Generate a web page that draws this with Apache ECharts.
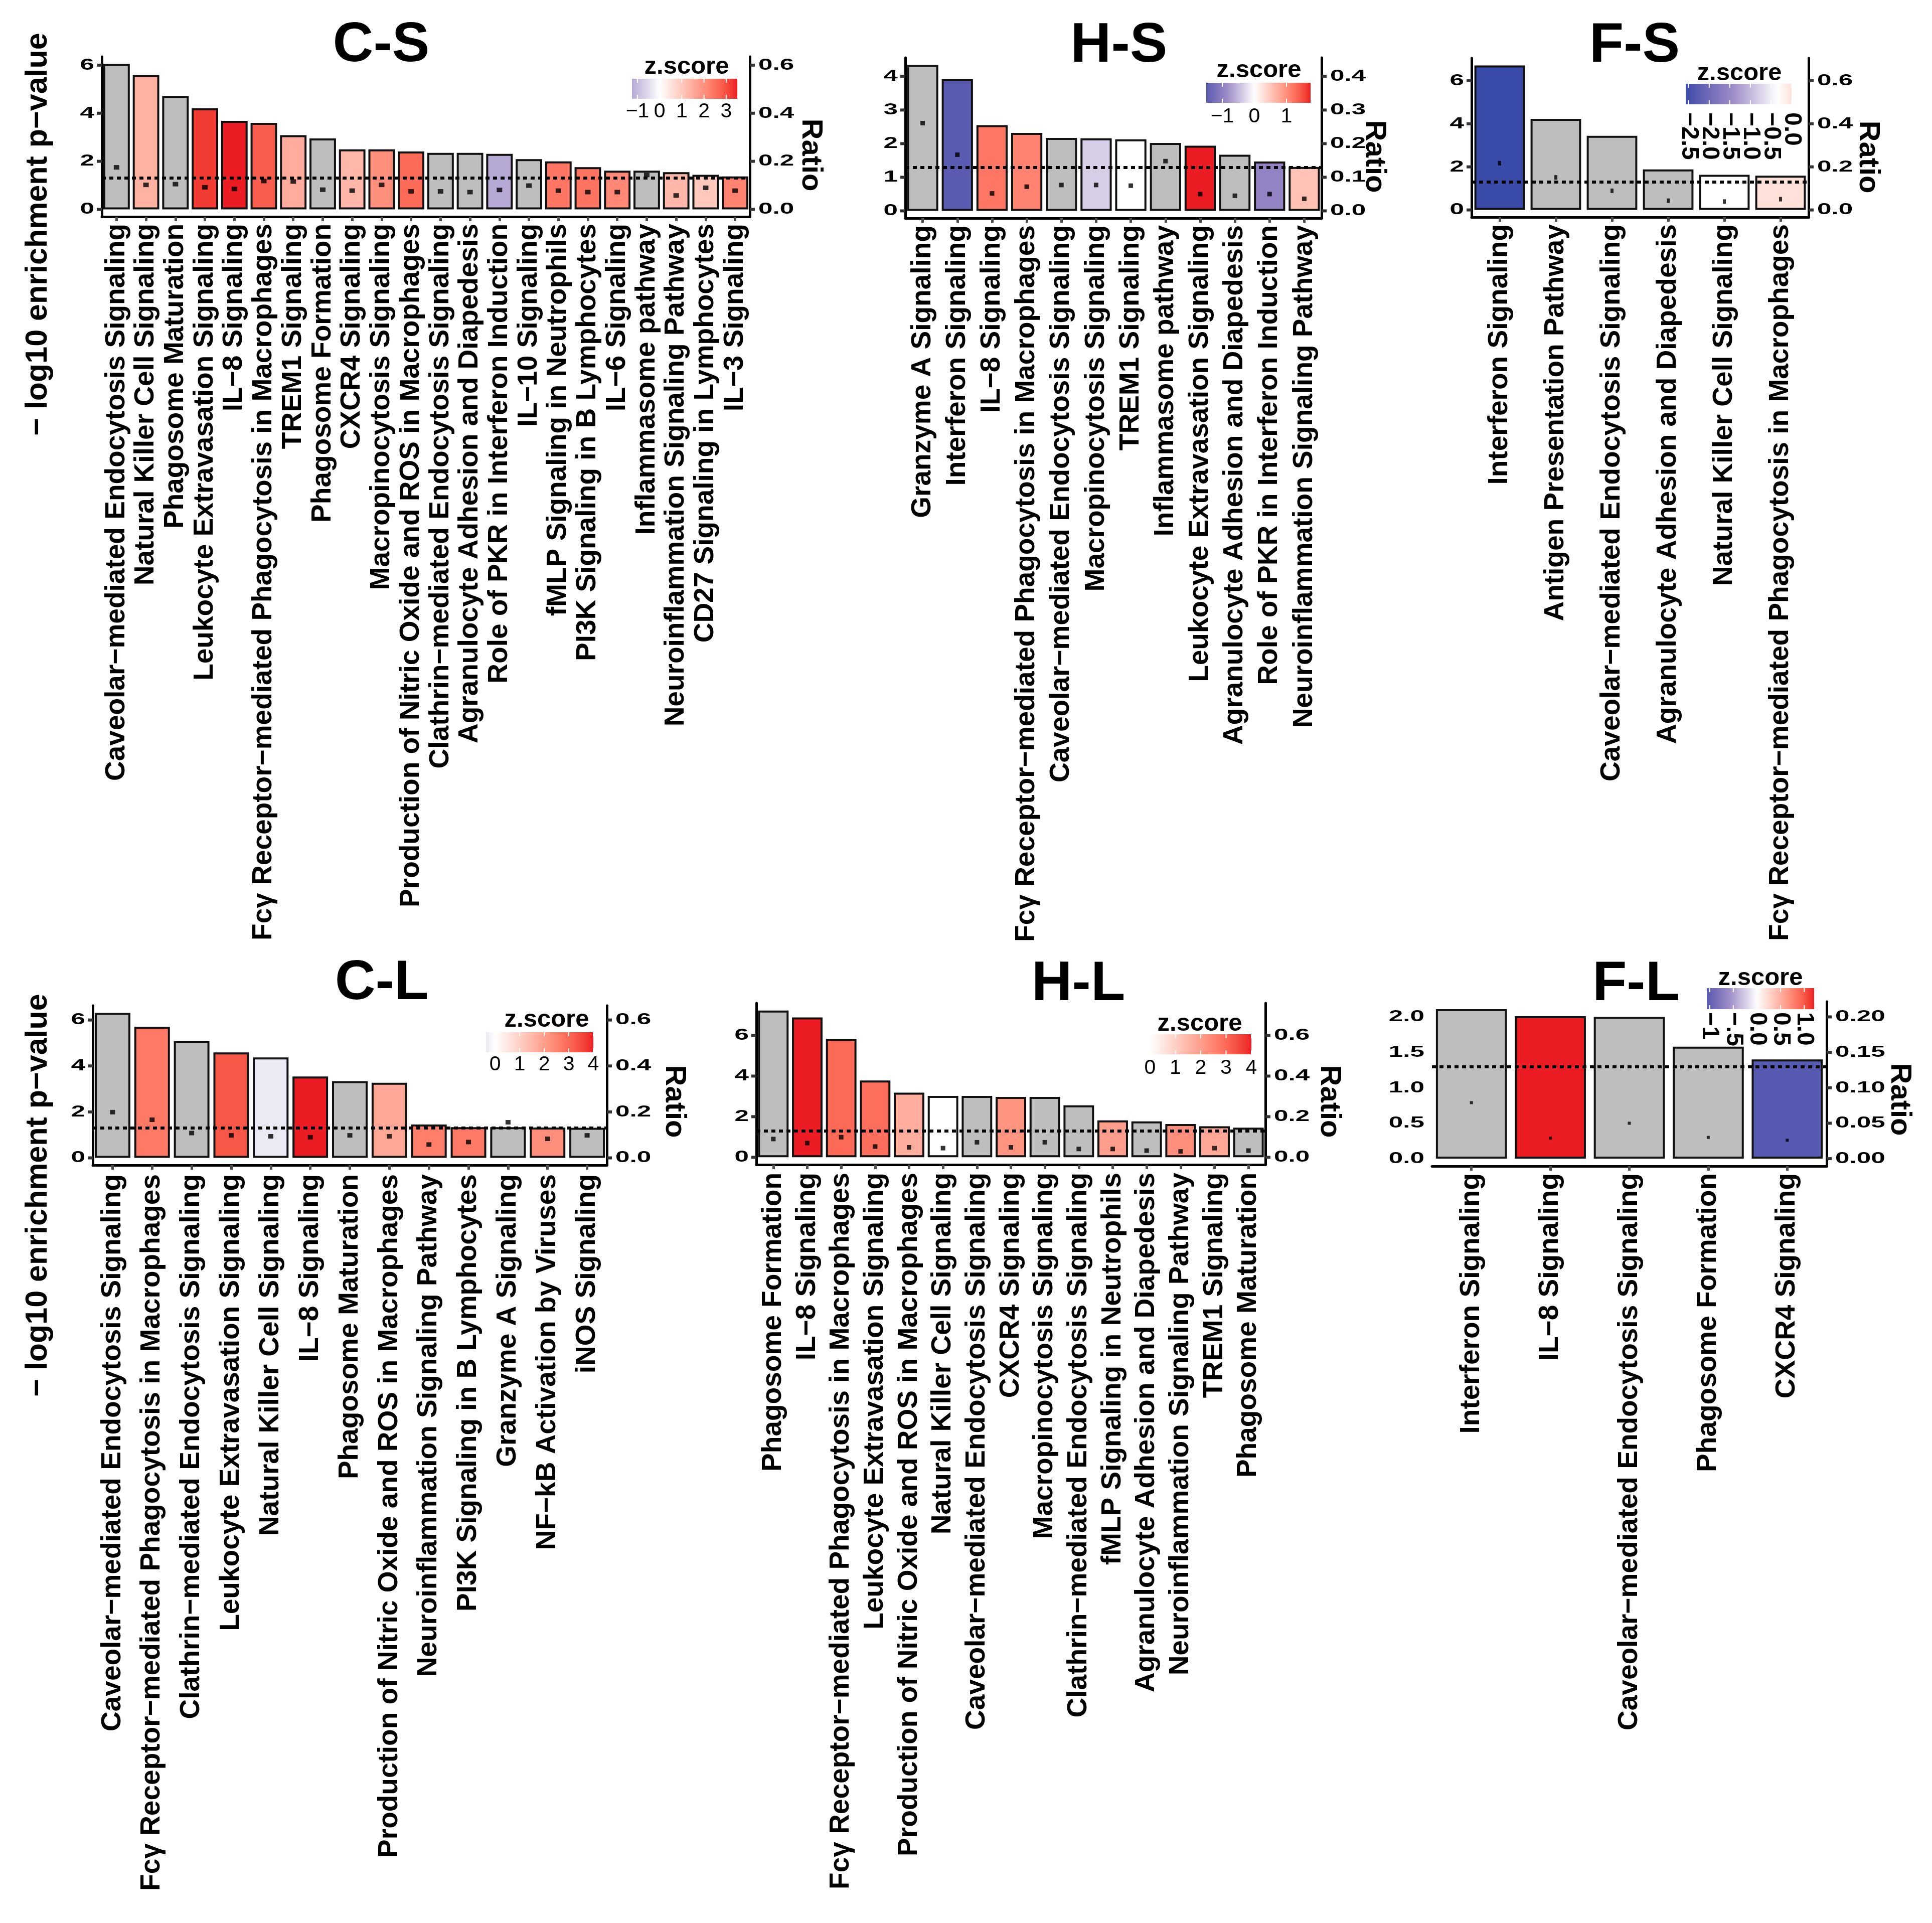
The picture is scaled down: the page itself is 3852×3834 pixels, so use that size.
<!DOCTYPE html>
<html><head><meta charset="utf-8">
<script src="https://cdn.jsdelivr.net/npm/echarts@6/dist/echarts.min.js"></script>
<style>html,body{margin:0;padding:0;background:#fff}#c{width:3852px;height:3834px}</style>
</head><body><div id="c"></div>
<script>
const THRESHOLD = 1.3;

// ---------- C-S ----------
const csCategories = ["Caveolar−mediated Endocytosis Signaling","Natural Killer Cell Signaling","Phagosome Maturation","Leukocyte Extravasation Signaling","IL−8 Signaling","Fcγ Receptor−mediated Phagocytosis in Macrophages","TREM1 Signaling","Phagosome Formation","CXCR4 Signaling","Macropinocytosis Signaling","Production of Nitric Oxide and ROS in Macrophages","Clathrin−mediated Endocytosis Signaling","Agranulocyte Adhesion and Diapedesis","Role of PKR in Interferon Induction","IL−10 Signaling","fMLP Signaling in Neutrophils","PI3K Signaling in B Lymphocytes","IL−6 Signaling","Inflammasome pathway","Neuroinflammation Signaling Pathway","CD27 Signaling in Lymphocytes","IL−3 Signaling"];
const csLogP  = [6.05,5.59,4.72,4.21,3.68,3.60,3.09,2.95,2.50,2.50,2.41,2.35,2.35,2.31,2.09,2.00,1.76,1.61,1.61,1.55,1.44,1.37];
const csRatio = [0.175,0.102,0.105,0.092,0.085,0.118,0.116,0.082,0.078,0.102,0.075,0.075,0.072,0.081,0.099,0.078,0.072,0.072,0.143,0.058,0.090,0.078];
const csZ     = [null,1.4,null,3.25,3.5,2.8,1.5,null,1.3,2.0,2.6,null,null,-1.25,null,2.4,2.45,2.1,null,1.3,1.0,2.2];
const csYTickLabels = ["0","2","4","6"];
const csRatioTickLabels = ["0.0","0.2","0.4","0.6"];
const csLegendValues = [-1,0,1,2,3];
const csLegendLabels = ["−1","0","1","2","3"];

// ---------- H-S ----------
const hsCategories = ["Granzyme A Signaling","Interferon Signaling","IL−8 Signaling","Fcγ Receptor−mediated Phagocytosis in Macrophages","Caveolar−mediated Endocytosis Signaling","Macropinocytosis Signaling","TREM1 Signaling","Inflammasome pathway","Leukocyte Extravasation Signaling","Agranulocyte Adhesion and Diapedesis","Role of PKR in Interferon Induction","Neuroinflammation Signaling Pathway"];
const hsLogP  = [4.34,3.92,2.55,2.32,2.17,2.16,2.13,2.02,1.94,1.67,1.47,1.31];
const hsRatio = [0.261,0.167,0.052,0.072,0.077,0.077,0.075,0.148,0.050,0.045,0.050,0.036];
const hsZ     = [null,-1.5,1.2,1.1,null,-0.35,0,null,1.75,null,-0.95,0.55];
const hsYTickLabels = ["0","1","2","3","4"];
const hsRatioTickLabels = ["0.0","0.1","0.2","0.3","0.4"];
const hsLegendValues = [-1,0,1];
const hsLegendLabels = ["−1","0","1"];

// ---------- F-S ----------
const fsCategories = ["Interferon Signaling","Antigen Presentation Pathway","Caveolar−mediated Endocytosis Signaling","Agranulocyte Adhesion and Diapedesis","Natural Killer Cell Signaling","Fcγ Receptor−mediated Phagocytosis in Macrophages"];
const fsLogP  = [6.71,4.23,3.44,1.88,1.63,1.59];
const fsRatio = [0.217,0.151,0.089,0.043,0.039,0.050];
const fsZ     = [-2.57,null,null,null,-0.35,0.0];
const fsYTickLabels = ["0","2","4","6"];
const fsRatioTickLabels = ["0.0","0.2","0.4","0.6"];
const fsLegendValues = [-2.5,-2.0,-1.5,-1.0,-0.5,0.0];
const fsLegendLabels = ["−2.5","−2.0","−1.5","−1.0","−0.5","0.0"];

// ---------- C-L ----------
const clCategories = ["Caveolar−mediated Endocytosis Signaling","Fcγ Receptor−mediated Phagocytosis in Macrophages","Clathrin−mediated Endocytosis Signaling","Leukocyte Extravasation Signaling","Natural Killer Cell Signaling","IL−8 Signaling","Phagosome Maturation","Production of Nitric Oxide and ROS in Macrophages","Neuroinflammation Signaling Pathway","PI3K Signaling in B Lymphocytes","Granzyme A Signaling","NF−kB Activation by Viruses","iNOS Signaling"];
const clLogP  = [6.31,5.71,5.08,4.59,4.37,3.54,3.34,3.27,1.45,1.34,1.34,1.32,1.31];
const clRatio = [0.199,0.166,0.108,0.098,0.094,0.090,0.098,0.094,0.058,0.069,0.155,0.083,0.098];
const clZ     = [null,2.7,null,3.3,-0.37,4.0,null,1.8,2.6,2.7,null,2.3,null];
const clYTickLabels = ["0","2","4","6"];
const clRatioTickLabels = ["0.0","0.2","0.4","0.6"];
const clLegendValues = [0,1,2,3,4];
const clLegendLabels = ["0","1","2","3","4"];

// ---------- H-L ----------
const hlCategories = ["Phagosome Formation","IL−8 Signaling","Fcγ Receptor−mediated Phagocytosis in Macrophages","Leukocyte Extravasation Signaling","Production of Nitric Oxide and ROS in Macrophages","Natural Killer Cell Signaling","Caveolar−mediated Endocytosis Signaling","CXCR4 Signaling","Macropinocytosis Signaling","Clathrin−mediated Endocytosis Signaling","fMLP Signaling in Neutrophils","Agranulocyte Adhesion and Diapedesis","Neuroinflammation Signaling Pathway","TREM1 Signaling","Phagosome Maturation"];
const hlLogP  = [7.23,6.89,5.83,3.78,3.18,3.02,3.02,2.97,2.97,2.56,1.82,1.77,1.64,1.53,1.46];
const hlRatio = [0.090,0.070,0.099,0.053,0.049,0.045,0.074,0.049,0.074,0.041,0.041,0.033,0.029,0.045,0.033];
const hlZ     = [null,4.0,3.0,2.9,1.7,0,null,2.2,null,null,2.0,null,2.3,1.8,null];
const hlYTickLabels = ["0","2","4","6"];
const hlRatioTickLabels = ["0.0","0.2","0.4","0.6"];
const hlLegendValues = [0,1,2,3,4];
const hlLegendLabels = ["0","1","2","3","4"];

// ---------- F-L ----------
const flCategories = ["Interferon Signaling","IL−8 Signaling","Caveolar−mediated Endocytosis Signaling","Phagosome Formation","CXCR4 Signaling"];
const flLogP  = [2.11,2.01,2.00,1.58,1.40];
const flRatio = [0.079,0.029,0.050,0.030,0.026];
const flZ     = [null,1.21,null,null,-1.06];
const flYTickLabels = ["0.0","0.5","1.0","1.5","2.0"];
const flRatioTickLabels = ["0.00","0.05","0.10","0.15","0.20"];
const flLegendValues = [-1,-0.5,0,0.5,1];
const flLegendLabels = ["−1","−.5","0.0","0.5","1.0"];

// ---------- layout / style ----------
const FONT = '"Liberation Sans", Arial, Helvetica, sans-serif';
const panels = [
  {title:"C-S", cats:csCategories, vals:csLogP, ratio:csRatio, z:csZ, yl:csYTickLabels, rl:csRatioTickLabels, lv:csLegendValues, ll:csLegendLabels,
   grid:{left:203, top:113, width:1292, height:319}, titleXY:[760,91], ratioXY:[1616,309], leftAxis:true, dot:[11,9], margin:14,
   lg:{x0:1260,x1:1470,y0:157,y1:197,lo:-1.25,hi:3.5,mid:0,tx:1369,ty:133,ly:223,rot:false}},
  {title:"H-S", cats:hsCategories, vals:hsLogP, ratio:hsRatio, z:hsZ, yl:hsYTickLabels, rl:hsRatioTickLabels, lv:hsLegendValues, ll:hsLegendLabels,
   grid:{left:1805, top:115, width:830, height:320}, titleXY:[2231,92], ratioXY:[2740,312], leftAxis:true, dot:[9,9], margin:14,
   lg:{x0:2405,x1:2613,y0:165,y1:205,lo:-1.5,hi:1.75,mid:0,tx:2510,ty:140,ly:233,rot:false}},
  {title:"F-S", cats:fsCategories, vals:fsLogP, ratio:fsRatio, z:fsZ, yl:fsYTickLabels, rl:fsRatioTickLabels, lv:fsLegendValues, ll:fsLegendLabels,
   grid:{left:2934, top:116, width:672, height:317}, titleXY:[3259,92], ratioXY:[3724,313], leftAxis:true, dot:[6,9], margin:14,
   lg:{x0:3361,x1:3572,y0:167,y1:208,lo:-2.57,hi:0.0,mid:-0.35,tx:3468,ty:146,ly:224,rot:true}},
  {title:"C-L", cats:clCategories, vals:clLogP, ratio:clRatio, z:clZ, yl:clYTickLabels, rl:clRatioTickLabels, lv:clLegendValues, ll:clLegendLabels,
   grid:{left:185, top:2005, width:1025, height:318}, titleXY:[761,1961], ratioXY:[1344,2196], leftAxis:true, dot:[10,9], margin:18,
   lg:{x0:969,x1:1183,y0:2058,y1:2098,lo:-0.37,hi:4.0,mid:0,tx:1090,ty:2033,ly:2123,rot:false}},
  {title:"H-L", cats:hlCategories, vals:hlLogP, ratio:hlRatio, z:hlZ, yl:hlYTickLabels, rl:hlRatioTickLabels, lv:hlLegendValues, ll:hlLegendLabels,
   grid:{left:1508, top:2000, width:1015, height:322}, titleXY:[2150,1963], ratioXY:[2650,2196], leftAxis:true, dot:[9,9], margin:16,
   lg:{x0:2293,x1:2495,y0:2062,y1:2102,lo:0,hi:4.0,mid:0,tx:2392,ty:2041,ly:2130,rot:false}},
  {title:"F-L", cats:flCategories, vals:flLogP, ratio:flRatio, z:flZ, yl:flYTickLabels, rl:flRatioTickLabels, lv:flLegendValues, ll:flLegendLabels,
   grid:{left:2855, top:1997, width:787, height:328}, titleXY:[3262,1963], ratioXY:[3787,2192], leftAxis:false, dot:[6,6], margin:14,
   lg:{x0:3403,x1:3617,y0:1970,y1:2012,lo:-1.06,hi:1.21,mid:0,tx:3510,ty:1950,ly:2018,rot:true}}
];
const yTitles = [[76,467],[76,2383]];

// ---------- colour scale (gradient2, Lab interpolation) ----------
const LOWMID='#9A89C5', LOW='#3A4BA9', HIGH='#EC1C24', NA='#BEBEBE';
function hex2rgb(h){h=h.replace('#','');return [parseInt(h.slice(0,2),16),parseInt(h.slice(2,4),16),parseInt(h.slice(4,6),16)];}
function toLin(c){c/=255;return c<=0.04045?c/12.92:Math.pow((c+0.055)/1.055,2.4);}
function fromLin(v){v=v<=0.0031308?12.92*v:1.055*Math.pow(v,1/2.4)-0.055;return Math.round(Math.min(1,Math.max(0,v))*255);}
const Xn=0.95047,Yn=1,Zn=1.08883;
function ff(t){return t>0.008856?Math.cbrt(t):7.787*t+16/116;}
function fi(t){return t>0.206893?t*t*t:(t-16/116)/7.787;}
function rgb2lab(rgb){const [r,g,b]=rgb.map(toLin);const X=(0.4124*r+0.3576*g+0.1805*b)/Xn,Y=(0.2126*r+0.7152*g+0.0722*b)/Yn,Z=(0.0193*r+0.1192*g+0.9505*b)/Zn;return [116*ff(Y)-16,500*(ff(X)-ff(Y)),200*(ff(Y)-ff(Z))];}
function lab2rgb(L,a,b){const fy=(L+16)/116,fx=fy+a/500,fz=fy-b/200;const X=fi(fx)*Xn,Y=fi(fy)*Yn,Z=fi(fz)*Zn;
  const r=3.2406*X-1.5372*Y-0.4986*Z,g=-0.9689*X+1.8758*Y+0.0415*Z,bb=0.0557*X-0.2040*Y+1.0570*Z;
  return 'rgb('+fromLin(r)+','+fromLin(g)+','+fromLin(bb)+')';}
const labW=rgb2lab([255,255,255]), labH=rgb2lab(hex2rgb(HIGH)), labL=rgb2lab(hex2rgb(LOW)), labLM=rgb2lab(hex2rgb(LOWMID));
function mix(a,b,s){return lab2rgb(a[0]+(b[0]-a[0])*s, a[1]+(b[1]-a[1])*s, a[2]+(b[2]-a[2])*s);}
function zColor(z, lg){
  if(z===null||z===undefined) return NA;
  const M=Math.max(Math.abs(lg.lo-lg.mid),Math.abs(lg.hi-lg.mid));
  let t=(z-lg.mid)/M; t=Math.max(-1,Math.min(1,t));
  if(t>=0) return mix(labW,labH,t);
  const s=-t;
  return s<=0.5 ? mix(labW,labLM,s/0.5) : mix(labLM,labL,(s-0.5)/0.5);
}

// ---------- option ----------
const grids=[], xAxes=[], yAxes=[], series=[];
panels.forEach((p,i)=>{
  grids.push({left:p.grid.left, top:p.grid.top, width:p.grid.width, height:p.grid.height, containLabel:false});
  const vmax=Math.max(...p.vals), ymin=-0.05*vmax, ymax=1.05*vmax;
  xAxes.push({type:'category', gridIndex:i, data:p.cats, boundaryGap:true,
    axisLine:{show:true,onZero:false,lineStyle:{color:'#000',width:5}},
    axisTick:{show:true,alignWithLabel:true,length:9,lineStyle:{color:'#4d4d4d',width:5}},
    axisLabel:{interval:0,rotate:90,margin:p.margin,fontSize:55,fontWeight:'bold',fontFamily:FONT,color:'#000'},
    splitLine:{show:false}});
  yAxes.push({type:'value', gridIndex:i, position:'left', min:ymin, max:ymax,
    axisLine:{show:p.leftAxis,onZero:false,lineStyle:{color:'#000',width:5}},
    axisTick:{show:false}, axisLabel:{show:false}, splitLine:{show:false}});
  yAxes.push({type:'value', gridIndex:i, position:'right', min:ymin/10, max:ymax/10,
    axisLine:{show:true,onZero:false,lineStyle:{color:'#000',width:5}},
    axisTick:{show:false}, axisLabel:{show:false}, splitLine:{show:false}});
  series.push({type:'bar', xAxisIndex:i, yAxisIndex:2*i, barCategoryGap:'10%', z:2,
    itemStyle:{borderColor:'#111',borderWidth:4},
    data:p.vals.map((v,k)=>({value:v,itemStyle:{color:zColor(p.z[k],p.lg)}})),
    markLine:{silent:true,symbol:['none','none'],label:{show:false},animation:false,
      lineStyle:{color:'#000',width:6,type:[8,7]},data:[{yAxis:THRESHOLD}]}});
  series.push({type:'scatter', xAxisIndex:i, yAxisIndex:2*i+1, symbol:'rect', symbolSize:p.dot, z:5,
    itemStyle:{color:'#000'}, data:p.ratio});
});

const chart = echarts.init(document.getElementById('c'), null, {renderer:'canvas', width:3852, height:3834});
chart.setOption({animation:false, backgroundColor:'#fff', grid:grids, xAxis:xAxes, yAxis:yAxes, series:series});

// ---------- annotations ----------
function txt(x,y,text,font,o){o=o||{};const al=o.align||'center',va=o.va||'middle';
  return {type:'text',x:x,y:y,rotation:o.rot||0,scaleX:o.sx||1,z:100,silent:true,
    style:{text:text,font:font,fill:'#000',textAlign:al,textVerticalAlign:va,align:al,verticalAlign:va}};}
function ln(x1,y1,x2,y2,c,w){return {type:'line',z:99,silent:true,shape:{x1:x1,y1:y1,x2:x2,y2:y2},style:{stroke:c,lineWidth:w}};}
const TICKFONT='bold 32px '+FONT;
const g=[];
panels.forEach((p,i)=>{
  const L=p.grid.left, R=p.grid.left+p.grid.width;
  g.push(txt(p.titleXY[0],p.titleXY[1],p.title,'bold 112px '+FONT));
  g.push(txt(p.ratioXY[0],p.ratioXY[1],'Ratio','bold 58px '+FONT,{rot:-Math.PI/2}));
  p.yl.forEach(s=>{
    const y=chart.convertToPixel({yAxisIndex:2*i},parseFloat(s));
    if(p.leftAxis) g.push(ln(L-10,y,L,y,'#333',6));
    g.push(txt(L-15,y,s,TICKFONT,{align:'right',sx:1.6}));
  });
  p.rl.forEach(s=>{
    const y=chart.convertToPixel({yAxisIndex:2*i+1},parseFloat(s));
    g.push(ln(R,y,R+10,y,'#333',6));
    g.push(txt(R+17,y,s,TICKFONT,{align:'left',sx:1.6}));
  });
  // colour legend
  const lg=p.lg, stops=[];
  for(let k=0;k<=40;k++){const zz=lg.lo+(lg.hi-lg.lo)*k/40;stops.push({offset:k/40,color:zColor(zz,lg)});}
  g.push({type:'rect',z:98,silent:true,shape:{x:lg.x0,y:lg.y0,width:lg.x1-lg.x0,height:lg.y1-lg.y0},
    style:{fill:new echarts.graphic.LinearGradient(0,0,1,0,stops)}});
  g.push(txt(lg.tx,lg.ty,'z.score','bold 49px '+FONT));
  p.lv.forEach((v,k)=>{
    const x=lg.x0+(v-lg.lo)/(lg.hi-lg.lo)*(lg.x1-lg.x0);
    g.push(ln(x,lg.y1-8,x,lg.y1,'#fff',2));
    g.push(ln(x,lg.y0,x,lg.y0+8,'#fff',2));
    if(lg.rot) g.push(txt(x,lg.ly,p.ll[k],'bold 48px '+FONT,{rot:-Math.PI/2,align:'left'}));
    else g.push(txt(x,lg.ly,p.ll[k],'41px '+FONT));
  });
});
yTitles.forEach(t=>g.push(txt(t[0],t[1],'− log10 enrichment p−value','bold 61px '+FONT,{rot:Math.PI/2})));
chart.setOption({graphic:{elements:g}});
</script></body></html>
